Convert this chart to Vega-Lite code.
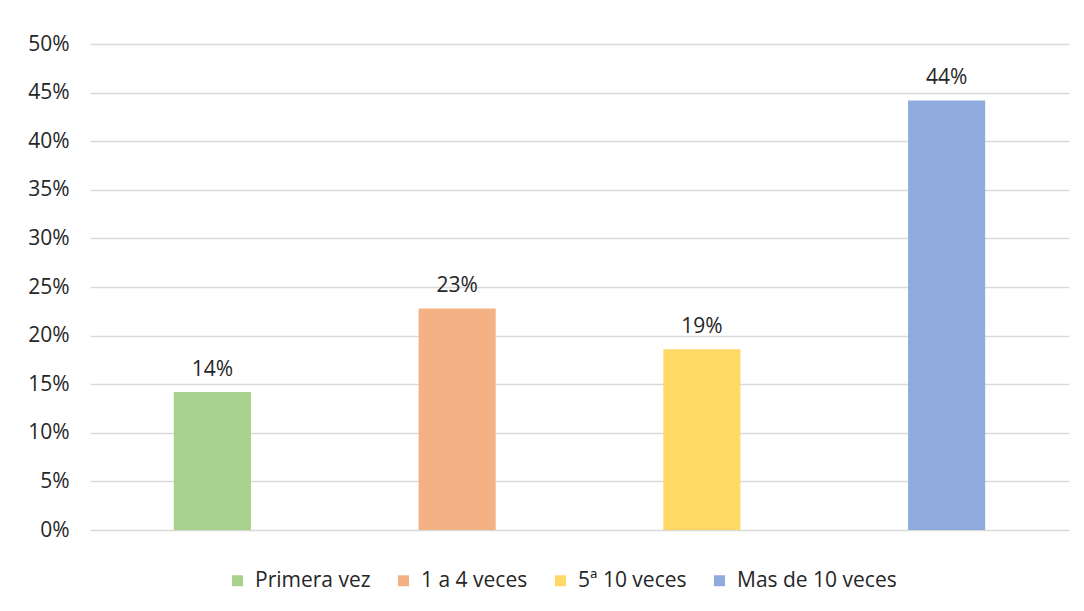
{
  "$schema": "https://vega.github.io/schema/vega-lite/v6.json",
  "autosize": {"type": "none"},
  "width": 979,
  "height": 486,
  "padding": {"left": 90, "top": 44, "right": 15, "bottom": 81},
  "background": "white",
  "config": {
    "font": "Open Sans",
    "view": {"stroke": null},
    "axis": {"labelFont": "Open Sans", "labelColor": "#262626"},
    "legend": {"labelFont": "Open Sans"}
  },
  "data": {
    "values": [
      {"categoria": "Primera vez", "porcentaje": 0.142},
      {"categoria": "1 a 4 veces", "porcentaje": 0.228},
      {"categoria": "5ª 10 veces", "porcentaje": 0.186},
      {"categoria": "Mas de 10 veces", "porcentaje": 0.442}
    ]
  },
  "encoding": {
    "x": {
      "field": "categoria",
      "type": "nominal",
      "sort": null,
      "scale": {"paddingInner": 0.685, "paddingOuter": 0.3425},
      "axis": null
    },
    "y": {
      "field": "porcentaje",
      "type": "quantitative",
      "scale": {"domain": [0, 0.5], "nice": false},
      "axis": {
        "title": null,
        "format": ".0%",
        "values": [0, 0.05, 0.1, 0.15, 0.2, 0.25, 0.3, 0.35, 0.4, 0.45, 0.5],
        "domain": false,
        "ticks": false,
        "labelPadding": 21,
        "labelFontSize": 21,
        "grid": true,
        "gridColor": "#d9d9d9",
        "gridWidth": 1.3
      }
    }
  },
  "layer": [
    {
      "mark": {"type": "bar"},
      "encoding": {
        "color": {
          "field": "categoria",
          "type": "nominal",
          "sort": null,
          "scale": {
            "domain": ["Primera vez", "1 a 4 veces", "5ª 10 veces", "Mas de 10 veces"],
            "range": ["#A9D18E", "#F4B183", "#FFD966", "#8FAADC"]
          },
          "legend": {
            "title": null,
            "orient": "none",
            "legendX": 137,
            "legendY": 526,
            "direction": "horizontal",
            "symbolType": "square",
            "symbolSize": 120,
            "symbolStrokeWidth": 0,
            "labelFontSize": 21,
            "labelColor": "#262626",
            "labelOffset": 7,
            "columnPadding": 22
          }
        }
      }
    },
    {
      "mark": {"type": "text", "baseline": "bottom", "dy": -12, "fontSize": 21, "color": "#262626"},
      "encoding": {
        "text": {"field": "porcentaje", "type": "quantitative", "format": ".0%"}
      }
    }
  ]
}
